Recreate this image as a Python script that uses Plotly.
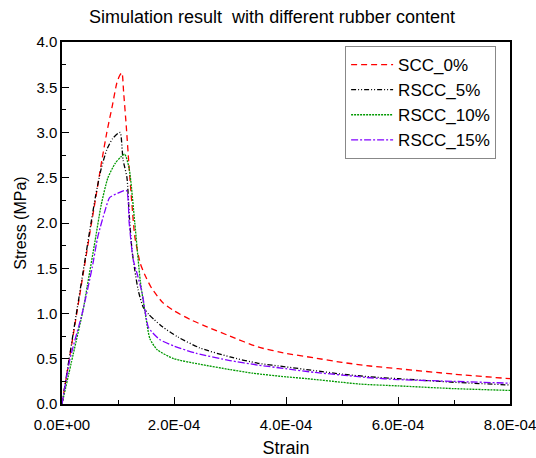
import plotly.graph_objects as go

# Strain values in units of 1e-4 (converted below), stress in MPa
strain_scc0 = [0, 0.1, 0.2, 0.3, 0.4, 0.5, 0.6, 0.7, 0.8, 0.9, 0.98, 1.03, 1.07, 1.1, 1.15, 1.2, 1.25, 1.3, 1.4, 1.5, 1.6, 1.8, 2.0, 2.3, 2.6, 3.0, 3.5, 4.0, 4.5, 5.0, 5.5, 6.0, 7.0, 8.0]
stress_scc0 = [0, 0.38, 0.76, 1.14, 1.52, 1.9, 2.27, 2.65, 3.0, 3.3, 3.55, 3.63, 3.66, 3.45, 3.05, 2.6, 2.2, 1.85, 1.55, 1.40, 1.28, 1.12, 1.03, 0.93, 0.85, 0.75, 0.63, 0.56, 0.51, 0.46, 0.42, 0.39, 0.33, 0.28]

strain_rscc5 = [0, 0.2, 0.4, 0.6, 0.7, 0.8, 0.9, 1.0, 1.04, 1.09, 1.16, 1.2, 1.25, 1.3, 1.36, 1.45, 1.55, 1.65, 1.8, 2.07, 2.46, 3.0, 3.5, 4.0, 4.5, 5.0, 5.5, 6.0, 7.0, 8.0]
stress_rscc5 = [0, 0.78, 1.55, 2.3, 2.6, 2.81, 2.93, 2.99, 3.0, 2.7, 2.5, 2.1, 1.7, 1.48, 1.26, 1.07, 0.99, 0.93, 0.85, 0.74, 0.62, 0.52, 0.45, 0.41, 0.37, 0.33, 0.30, 0.28, 0.24, 0.21]

strain_rscc10 = [0, 0.2, 0.38, 0.45, 0.59, 0.7, 0.82, 0.95, 1.05, 1.12, 1.2, 1.3, 1.4, 1.5, 1.57, 1.7, 2.0, 2.46, 3.0, 3.41, 4.0, 4.37, 5.0, 5.32, 6.0, 7.0, 8.0]
stress_rscc10 = [0, 0.55, 1.05, 1.3, 1.8, 2.2, 2.5, 2.66, 2.73, 2.76, 2.6, 2.0, 1.35, 0.95, 0.72, 0.6, 0.5, 0.44, 0.38, 0.34, 0.30, 0.28, 0.24, 0.22, 0.20, 0.17, 0.15]

strain_rscc15 = [0, 0.14, 0.36, 0.54, 0.64, 0.77, 0.85, 1.0, 1.15, 1.2, 1.27, 1.35, 1.43, 1.54, 1.6, 1.75, 2.0, 2.4, 3.0, 3.5, 4.0, 4.5, 5.0, 5.5, 6.0, 7.0, 8.0]
stress_rscc15 = [0, 0.49, 1.0, 1.51, 1.85, 2.14, 2.28, 2.33, 2.36, 2.0, 1.6, 1.42, 1.23, 0.85, 0.8, 0.71, 0.64, 0.56, 0.48, 0.43, 0.39, 0.35, 0.32, 0.29, 0.27, 0.25, 0.23]

series_names = ["SCC_0%", "RSCC_5%", "RSCC_10%", "RSCC_15%"]
series_colors = ["#ff0000", "#000000", "#009900", "#8000ff"]

x_tickvals = [0, 2e-4, 4e-4, 6e-4, 8e-4]
x_ticktext = ["0.0E+00", "2.0E-04", "4.0E-04", "6.0E-04", "8.0E-04"]
y_tickvals = [0, 0.5, 1.0, 1.5, 2.0, 2.5, 3.0, 3.5, 4.0]

strains = [strain_scc0, strain_rscc5, strain_rscc10, strain_rscc15]
stresses = [stress_scc0, stress_rscc5, stress_rscc10, stress_rscc15]
dashes = ["6px,4px", "5px,2px,1px,2px,1px,2px", "2px,1px", "7px,2px,2px,2px"]

fig = go.Figure()
for name, color, sx, sy, dash in zip(series_names, series_colors, strains, stresses, dashes):
    fig.add_trace(go.Scatter(
        x=[v * 1e-4 for v in sx], y=sy, mode="lines", name=name,
        line=dict(color=color, width=1.3, dash=dash, shape="spline", smoothing=0.6),
    ))

font_family = "Liberation Sans, Arial, sans-serif"
fig.update_layout(
    width=536, height=458,
    margin=dict(l=62, r=26, t=42, b=54, autoexpand=False),
    paper_bgcolor="white", plot_bgcolor="white",
    font=dict(family=font_family, size=15, color="black"),
    title=dict(text="Simulation result  with different rubber content",
               x=272 / 536, xanchor="center", xref="container",
               y=1 - 17 / 458, yanchor="middle", yref="container",
               font=dict(size=18, family=font_family)),
    showlegend=True,
    legend=dict(x=0.969, y=0.989, xanchor="right", yanchor="top",
                bgcolor="white", bordercolor="#888888", borderwidth=1,
                font=dict(size=17, family=font_family),
                itemwidth=42, tracegroupgap=0),
    xaxis=dict(range=[0, 8e-4], tickvals=x_tickvals, ticktext=x_ticktext,
               automargin=False, ticklabeloverflow="allow", ticklabelstandoff=6,
               showgrid=False, zeroline=False, showline=True, linecolor="black",
               linewidth=1.5, mirror=True, ticks="inside", ticklen=7, tickwidth=1.2,
               tickcolor="black",
               minor=dict(ticks="inside", ticklen=4, dtick=1e-4, tick0=0, tickcolor="black"),
               title=dict(text="Strain", font=dict(size=18), standoff=13),
               tickfont=dict(size=15)),
    yaxis=dict(range=[0, 4.0], tickvals=y_tickvals, tickformat=".1f",
               automargin=False, ticklabeloverflow="allow",
               showgrid=False, zeroline=False, showline=True, linecolor="black",
               linewidth=1.5, mirror=True, ticks="inside", ticklen=7, tickwidth=1.2,
               tickcolor="black",
               minor=dict(ticks="inside", ticklen=4, dtick=0.25, tick0=0, tickcolor="black"),
               title=dict(text="Stress (MPa)", font=dict(size=16), standoff=6),
               tickfont=dict(size=15)),
)

fig.write_html("out.html")
